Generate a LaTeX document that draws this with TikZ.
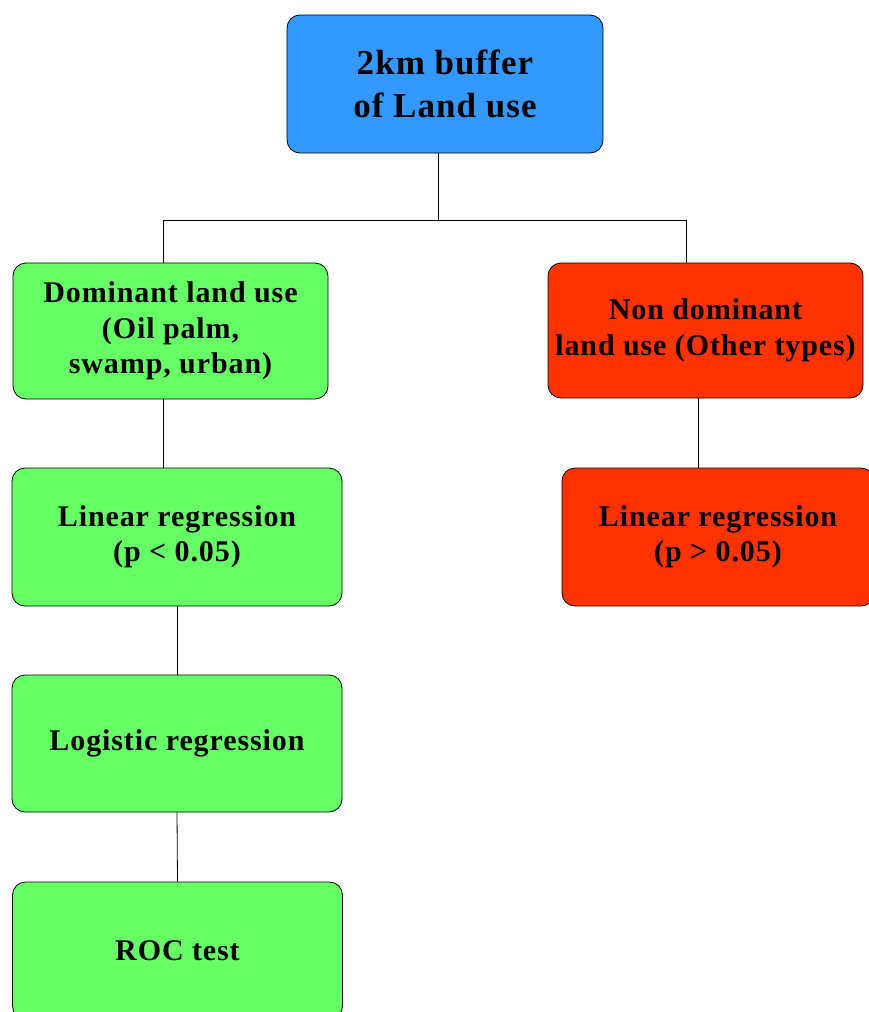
\documentclass[tikz,border=0pt]{standalone}
\usepackage{fontspec}
\setmainfont{Liberation Serif}[LetterSpace=3]
\definecolor{bufblue}{HTML}{3399FF}
\definecolor{domgreen}{HTML}{66FF66}
\definecolor{nondomred}{HTML}{FF3300}
\begin{document}
\begin{tikzpicture}[
		x={(1pt,0pt)},
		y={(0pt,-1pt)},
		box/.style={draw=black,line width=0.8pt,rounded corners=13pt,align=center,inner sep=0pt,
			font=\bfseries\fontsize{30}{35.5}\selectfont},
		link/.style={draw=black,line width=0.8pt},
	]
	\useasboundingbox (0,0) rectangle (868,1012);

	\node[box,fill=bufblue,minimum width=316pt,minimum height=138pt,
		font=\bfseries\fontsize{35}{43}\selectfont] (buffer) at (445,84) {2km buffer\\of Land use};

	\node[box,fill=domgreen,minimum width=315pt,minimum height=136pt] (dom) at (170.5,331) {Dominant land use\\(Oil palm,\\swamp, urban)};
	\node[box,fill=nondomred,minimum width=315pt,minimum height=135pt] (nondom) at (705.5,330.5) {Non dominant\\land use (Other types)};

	\node[box,fill=domgreen,minimum width=330pt,minimum height=138pt] (linl) at (177,537) {Linear regression\\(p < 0.05)};
	\node[box,fill=nondomred,minimum width=312pt,minimum height=138pt] (linr) at (718,537) {Linear regression\\(p > 0.05)};
	\node[box,fill=domgreen,minimum width=330pt,minimum height=137pt] (logit) at (177,743.5) {Logistic regression};
	\node[box,fill=domgreen,minimum width=330pt,minimum height=137pt] (roc) at (177.5,950.5) {ROC test};

	\coordinate (split) at (438,220);
	\draw[link] ([xshift=-7pt]buffer.south) -- (split);
	\draw[link] (split) -| ([xshift=-7.5pt]dom.north);
	\draw[link] (split) -| ([xshift=-19.5pt]nondom.north);
	\draw[link] ([xshift=-7.5pt]dom.south) -- ([xshift=-14pt]linl.north);
	\draw[link] ([xshift=-7.5pt]nondom.south) -- ([xshift=-20pt]linr.north);
	\foreach \a/\b in {linl/logit, logit/roc}{
		\draw[link] (\a.south) -- (\b.north);
	}
\end{tikzpicture}
\end{document}
